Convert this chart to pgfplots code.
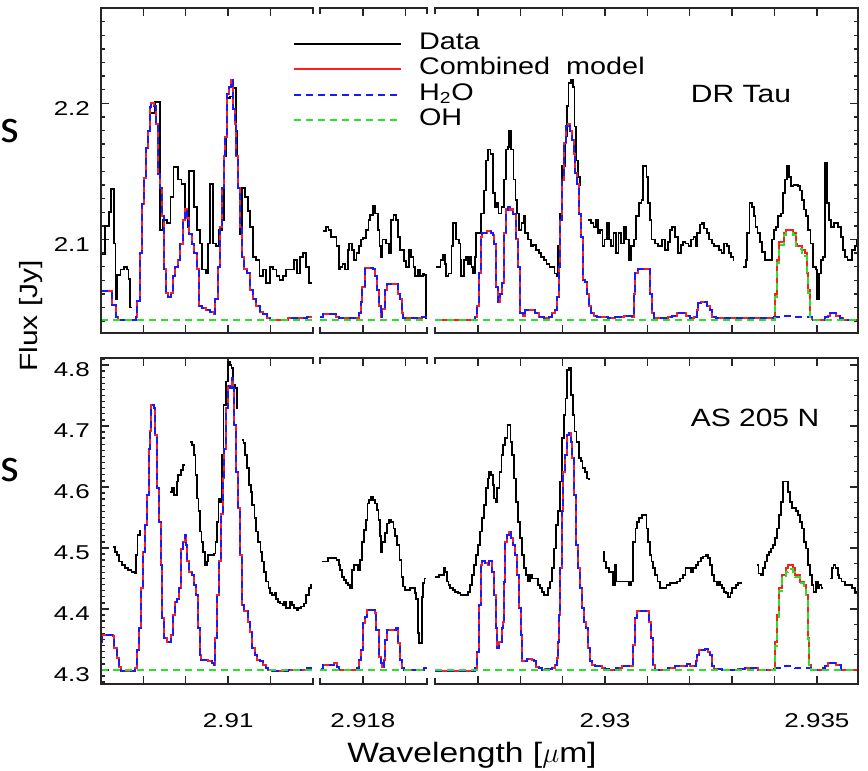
\documentclass[border=0pt]{standalone}
\usepackage{pgfplots}
\pgfplotsset{compat=1.18}
\usepackage{pgfplotstable}
\usepackage{fontspec}
\setmainfont{Liberation Sans}[FakeStretch=1.2]
\newfontfamily\tickfont{Liberation Sans}[FakeStretch=1.3]
\newfontfamily\sfont{Carlito}
\definecolor{mred}{RGB}{255,30,30}
\definecolor{mblue}{RGB}{25,25,255}
\definecolor{mgreen}{RGB}{40,225,40}
\pgfplotsset{
  brk/.style={
    scale only axis,
    axis line style={draw opacity=0},
    tick align=inside,
    major tick length=4pt, minor tick length=2pt,
    every tick/.append style={line width=0.7pt, black!85, draw opacity=1},
    scaled ticks=false,
    /pgf/number format/assume math mode=true,
    tick label style={font=\tickfont\fontsize{10}{12}\selectfont},
    yticklabel style={xshift=-2pt, yshift=-2.5pt},
    xticklabel style={anchor=base, yshift=-22pt},
    clip=true,
  },
  toprow/.style={brk, height=162.5pt, ymin=2.0313, ymax=2.270, ytick={2.1,2.2}, xticklabels={}},
  topminor/.style={minor ytick={2.04,2.05,2.06,2.07,2.08,2.09,2.11,2.12,2.13,2.14,2.15,2.16,2.17,2.18,2.19,2.21,2.22,2.23,2.24,2.25,2.26}},
  botrow/.style={brk, height=163pt, ymin=4.277, ymax=4.8115, ytick={4.3,4.4,4.5,4.6,4.7,4.8}},
  sA/.style={width=106pt, xmin=2.907, xmax=2.912, xtick={2.908,2.909,2.910,2.911}, ytick pos=left},
  sB/.style={width=53.5pt, xmin=2.91699, xmax=2.91951, xtick={2.918,2.919}, ytick=\empty, ymajorticks=false, yminorticks=false},
  sC/.style={width=211.5pt, xmin=2.92599, xmax=2.93597, xtick={2.927,2.928,2.929,2.93,2.931,2.932,2.933,2.934,2.935}, ytick pos=right, yticklabels={}},
  dat/.style={black, line width=0.9pt, const plot},
  cmb/.style={mred, line width=1.0pt, const plot},
  hwo/.style={mblue, line width=1.0pt, const plot, dash pattern=on 3.5pt off 2.5pt},
  ohs/.style={mgreen, line width=1.0pt, const plot, dash pattern=on 3.5pt off 2.5pt},
}
\begin{document}
\pgfplotstableread{
x y
2.90700 2.062
2.90727 2.052
2.90735 2.043
2.90741 2.041
2.90782 2.043
2.90786 2.055
2.90791 2.090
2.90796 2.126
2.90801 2.145
2.90805 2.167
2.90810 2.180
2.90815 2.197
2.90819 2.200
2.90824 2.198
2.90829 2.185
2.90834 2.148
2.90838 2.138
2.90843 2.117
2.90848 2.078
2.90853 2.061
2.90859 2.058
2.90865 2.061
2.90870 2.073
2.90875 2.080
2.90881 2.085
2.90887 2.097
2.90893 2.114
2.90898 2.122
2.90903 2.116
2.90908 2.104
2.90914 2.097
2.90920 2.090
2.90926 2.078
2.90931 2.051
2.90939 2.050
2.90948 2.048
2.90958 2.047
2.90966 2.045
2.90970 2.056
2.90975 2.080
2.90980 2.109
2.90985 2.138
2.90989 2.161
2.90993 2.175
2.90997 2.207
2.91002 2.212
2.91007 2.217
2.91011 2.196
2.91015 2.185
2.91018 2.161
2.91023 2.138
2.91028 2.109
2.91032 2.087
2.91038 2.078
2.91044 2.075
2.91051 2.063
2.91058 2.056
2.91066 2.051
2.91075 2.047
2.91083 2.045
2.91091 2.042
2.91099 2.041
2.91142 2.042
2.91187 2.043
2.91197 2.043
}\TsA
\pgfplotstableread{
x y
2.91698 2.043
2.91705 2.045
2.91736 2.043
2.91744 2.042
2.91790 2.046
2.91795 2.054
2.91799 2.065
2.91806 2.079
2.91823 2.078
2.91829 2.073
2.91834 2.063
2.91837 2.051
2.91842 2.043
2.91846 2.049
2.91851 2.063
2.91856 2.067
2.91878 2.067
2.91883 2.060
2.91887 2.056
2.91892 2.046
2.91895 2.042
2.91939 2.043
2.91951 2.043
}\TsB
\pgfplotstableread{
x y
2.92599 2.041
2.92694 2.043
2.92698 2.051
2.92702 2.075
2.92707 2.102
2.92710 2.105
2.92722 2.106
2.92730 2.105
2.92735 2.103
2.92738 2.097
2.92743 2.065
2.92748 2.054
2.92752 2.060
2.92757 2.068
2.92762 2.105
2.92767 2.122
2.92771 2.124
2.92776 2.122
2.92782 2.119
2.92789 2.100
2.92795 2.080
2.92800 2.046
2.92806 2.044
2.92812 2.048
2.92836 2.046
2.92844 2.043
2.92855 2.042
2.92867 2.043
2.92875 2.046
2.92881 2.048
2.92886 2.058
2.92891 2.080
2.92895 2.114
2.92898 2.144
2.92903 2.171
2.92908 2.183
2.92913 2.185
2.92917 2.180
2.92922 2.173
2.92927 2.163
2.92930 2.149
2.92935 2.141
2.92939 2.119
2.92944 2.102
2.92949 2.070
2.92954 2.069
2.92958 2.060
2.92963 2.051
2.92968 2.046
2.92974 2.044
2.92981 2.043
2.93007 2.042
2.93024 2.043
2.93044 2.044
2.93064 2.043
2.93068 2.060
2.93072 2.075
2.93078 2.078
2.93104 2.078
2.93106 2.060
2.93110 2.046
2.93116 2.042
2.93148 2.043
2.93157 2.044
2.93169 2.046
2.93190 2.044
2.93200 2.042
2.93211 2.043
2.93216 2.048
2.93220 2.053
2.93226 2.054
2.93240 2.051
2.93248 2.048
2.93253 2.043
2.93263 2.042
2.93397 2.043
}\TsCa
\pgfplotstableread{
x y
2.93397 2.043
2.93402 2.060
2.93406 2.085
2.93410 2.098
2.93423 2.105
2.93428 2.107
2.93444 2.105
2.93450 2.097
2.93454 2.095
2.93465 2.092
2.93472 2.090
2.93476 2.075
2.93479 2.063
2.93483 2.043
2.93489 2.041
}\TsCb
\pgfplotstableread{
x y
2.93489 2.041
2.93519 2.043
2.93525 2.044
2.93531 2.046
2.93546 2.044
2.93554 2.042
2.93562 2.041
2.93597 2.041
}\TsCc
\pgfplotstableread{
x y
2.90700 4.346
2.90703 4.357
2.90729 4.355
2.90731 4.336
2.90737 4.319
2.90742 4.305
2.90747 4.298
2.90780 4.303
2.90784 4.333
2.90790 4.368
2.90794 4.434
2.90798 4.494
2.90803 4.538
2.90808 4.587
2.90813 4.663
2.90816 4.691
2.90819 4.734
2.90824 4.729
2.90827 4.686
2.90832 4.598
2.90837 4.543
2.90842 4.472
2.90845 4.385
2.90849 4.352
2.90855 4.346
2.90860 4.346
2.90865 4.357
2.90870 4.390
2.90875 4.412
2.90879 4.417
2.90884 4.434
2.90889 4.499
2.90894 4.510
2.90898 4.521
2.90901 4.505
2.90904 4.478
2.90908 4.461
2.90914 4.456
2.90919 4.439
2.90923 4.423
2.90928 4.368
2.90933 4.325
2.90937 4.316
2.90953 4.314
2.90961 4.311
2.90966 4.308
2.90970 4.352
2.90974 4.423
2.90978 4.478
2.90983 4.555
2.90988 4.614
2.90991 4.663
2.90994 4.729
2.90999 4.765
2.91004 4.762
2.91008 4.778
2.91011 4.762
2.91014 4.702
2.91019 4.625
2.91024 4.565
2.91029 4.489
2.91033 4.407
2.91038 4.396
2.91047 4.379
2.91052 4.363
2.91057 4.336
2.91063 4.325
2.91069 4.316
2.91076 4.314
2.91082 4.308
2.91088 4.303
2.91095 4.300
2.91103 4.298
2.91142 4.300
2.91185 4.303
2.91198 4.303
}\BsA
\pgfplotstableread{
x y
2.91701 4.301
2.91705 4.308
2.91732 4.311
2.91738 4.305
2.91744 4.300
2.91787 4.303
2.91791 4.316
2.91796 4.333
2.91801 4.377
2.91806 4.387
2.91809 4.398
2.91829 4.393
2.91832 4.366
2.91837 4.322
2.91842 4.311
2.91845 4.305
2.91850 4.316
2.91853 4.349
2.91857 4.366
2.91878 4.368
2.91883 4.344
2.91887 4.316
2.91892 4.303
2.91897 4.300
2.91941 4.300
2.91945 4.303
2.91951 4.303
}\BsB
\pgfplotstableread{
x y
2.92599 4.298
2.92693 4.303
2.92697 4.330
2.92702 4.407
2.92707 4.472
2.92711 4.478
2.92718 4.475
2.92723 4.472
2.92727 4.478
2.92734 4.461
2.92738 4.423
2.92743 4.368
2.92746 4.336
2.92751 4.346
2.92756 4.368
2.92759 4.379
2.92762 4.445
2.92765 4.510
2.92768 4.521
2.92773 4.527
2.92778 4.516
2.92782 4.505
2.92787 4.489
2.92792 4.456
2.92796 4.401
2.92801 4.357
2.92804 4.314
2.92815 4.318
2.92828 4.316
2.92833 4.314
2.92837 4.305
2.92844 4.303
2.92852 4.300
2.92859 4.302
2.92875 4.303
2.92881 4.308
2.92886 4.319
2.92889 4.346
2.92892 4.390
2.92895 4.467
2.92899 4.560
2.92902 4.625
2.92905 4.652
2.92910 4.685
2.92914 4.688
2.92919 4.674
2.92922 4.647
2.92927 4.587
2.92932 4.505
2.92936 4.467
2.92941 4.434
2.92946 4.401
2.92950 4.379
2.92955 4.368
2.92960 4.336
2.92965 4.314
2.92969 4.308
2.92977 4.306
2.92993 4.304
2.93001 4.302
2.93009 4.300
2.93025 4.303
2.93040 4.306
2.93062 4.306
2.93067 4.341
2.93072 4.385
2.93076 4.396
2.93104 4.379
2.93109 4.352
2.93114 4.308
2.93118 4.300
2.93149 4.303
2.93165 4.306
2.93181 4.307
2.93193 4.309
2.93201 4.306
2.93214 4.314
2.93218 4.325
2.93223 4.333
2.93236 4.334
2.93242 4.330
2.93247 4.325
2.93252 4.306
2.93258 4.302
2.93275 4.300
2.93314 4.302
2.93330 4.303
2.93362 4.300
2.93399 4.303
}\BsCa
\pgfplotstableread{
x y
2.93399 4.303
2.93402 4.346
2.93406 4.390
2.93410 4.434
2.93417 4.456
2.93428 4.467
2.93432 4.472
2.93443 4.467
2.93448 4.456
2.93459 4.445
2.93469 4.439
2.93475 4.423
2.93478 4.352
2.93481 4.308
2.93487 4.300
}\BsCb
\pgfplotstableread{
x y
2.93487 4.300
2.93515 4.303
2.93520 4.306
2.93525 4.311
2.93546 4.308
2.93556 4.300
2.93597 4.298
}\BsCc
\begin{tikzpicture}
\path[use as bounding box] (0,0) rectangle (434pt,385.5pt);
% ================= TOP PANEL (DR Tau) =================
\begin{axis}[toprow, topminor, sA, name=t1, at={(50.5pt,219pt)}, anchor=south west,
  legend image code/.code={\draw[#1] (0pt,0pt) -- (53.5pt,0pt);},
  legend style={draw=none, fill=none, at={(rel axis cs:0.9057,0.929)}, anchor=north west,
    inner sep=0pt, outer sep=0pt, row sep=0pt, column sep=8.5pt,
    font=\fontsize{12}{14}\selectfont,
    nodes={inner sep=0pt, text height=9pt, text depth=3.75pt}},
  legend cell align=left]
\addplot[dat] coordinates {(2.90700,2.089) (2.90710,2.110) (2.90718,2.120) (2.90724,2.137) (2.90730,2.097) (2.90734,2.056) (2.90738,2.074) (2.90746,2.078) (2.90754,2.080) (2.90762,2.078) (2.90765,2.071) (2.90769,2.050) (2.90773,2.050)};
\addplot[dat, forget plot] coordinates {(2.90819,2.193) (2.90827,2.201) (2.90839,2.107) (2.90847,2.114) (2.90856,2.112) (2.90864,2.131) (2.90871,2.153) (2.90881,2.144) (2.90890,2.141) (2.90898,2.122) (2.90904,2.109) (2.90908,2.150) (2.90920,2.124) (2.90926,2.107) (2.90933,2.097) (2.90939,2.078) (2.90947,2.075) (2.90953,2.097) (2.90958,2.141) (2.90964,2.097) (2.90972,2.095) (2.90978,2.107) (2.90986,2.114) (2.90991,2.161) (2.90996,2.204) (2.91004,2.205) (2.91010,2.211) (2.91018,2.180) (2.91022,2.138) (2.91028,2.104) (2.91033,2.138) (2.91040,2.131) (2.91046,2.121) (2.91052,2.109) (2.91058,2.087) (2.91066,2.085) (2.91074,2.073) (2.91082,2.078) (2.91090,2.068) (2.91098,2.080) (2.91106,2.078) (2.91114,2.073) (2.91121,2.070) (2.91129,2.073) (2.91137,2.078) (2.91147,2.078) (2.91155,2.085) (2.91162,2.075) (2.91169,2.087) (2.91176,2.090) (2.91184,2.080) (2.91191,2.068) (2.91197,2.068)};
\addplot[cmb] table {\TsA};
\addplot[hwo] table {\TsA};
\addplot[ohs] coordinates {(2.90700,2.041) (2.91200,2.041)};
\legend{Data, Combined\ \ model, H\textsubscript{2}O, OH}
\end{axis}
\begin{axis}[toprow, sB, name=t2, at={(160pt,219pt)}, anchor=south west]
\addplot[dat] coordinates {(2.91706,2.106) (2.91713,2.109) (2.91719,2.107) (2.91725,2.102) (2.91732,2.102) (2.91738,2.095) (2.91743,2.078) (2.91746,2.080) (2.91752,2.082) (2.91758,2.078) (2.91764,2.092) (2.91768,2.097) (2.91774,2.092) (2.91780,2.085) (2.91785,2.090) (2.91790,2.095) (2.91795,2.100) (2.91801,2.101) (2.91807,2.107) (2.91813,2.114) (2.91817,2.118) (2.91823,2.125) (2.91829,2.119) (2.91835,2.107) (2.91839,2.095) (2.91842,2.087) (2.91846,2.100) (2.91854,2.097) (2.91861,2.090) (2.91866,2.114) (2.91872,2.118) (2.91878,2.114) (2.91882,2.102) (2.91887,2.092) (2.91892,2.092) (2.91897,2.084) (2.91901,2.080) (2.91908,2.092) (2.91913,2.087) (2.91919,2.080) (2.91923,2.073) (2.91929,2.078) (2.91934,2.073) (2.91941,2.075) (2.91945,2.074) (2.91949,2.042) (2.91950,2.042)};
\addplot[cmb] table {\TsB};
\addplot[hwo] table {\TsB};
\addplot[ohs] coordinates {(2.91699,2.041) (2.91951,2.041)};
\end{axis}
\begin{axis}[toprow, topminor, sC, name=t3, at={(217.5pt,219pt)}, anchor=south west]
\addplot[dat] coordinates {(2.92601,2.080) (2.92612,2.085) (2.92617,2.089) (2.92622,2.082) (2.92625,2.073) (2.92631,2.075) (2.92638,2.095) (2.92641,2.112) (2.92649,2.100) (2.92655,2.097) (2.92659,2.085) (2.92661,2.073) (2.92667,2.085) (2.92672,2.087) (2.92677,2.082) (2.92682,2.087) (2.92685,2.080) (2.92688,2.075) (2.92693,2.087) (2.92696,2.105) (2.92702,2.105) (2.92708,2.119) (2.92714,2.136) (2.92719,2.158) (2.92724,2.166) (2.92730,2.163) (2.92735,2.134) (2.92740,2.124) (2.92745,2.127) (2.92749,2.119) (2.92756,2.124) (2.92761,2.144) (2.92767,2.166) (2.92771,2.168) (2.92774,2.180) (2.92779,2.166) (2.92784,2.144) (2.92789,2.129) (2.92793,2.119) (2.92798,2.107) (2.92803,2.112) (2.92808,2.117) (2.92812,2.105) (2.92818,2.100) (2.92825,2.095) (2.92831,2.096) (2.92837,2.092) (2.92844,2.090) (2.92850,2.087) (2.92856,2.085) (2.92862,2.082) (2.92869,2.080) (2.92881,2.075) (2.92886,2.073) (2.92889,2.095) (2.92894,2.119) (2.92898,2.154) (2.92907,2.176) (2.92910,2.198) (2.92914,2.215) (2.92919,2.217) (2.92924,2.212) (2.92928,2.183) (2.92932,2.158) (2.92936,2.146) (2.92941,2.140) (2.92943,2.140)};
\addplot[dat] coordinates {(2.92961,2.114) (2.92967,2.112) (2.92973,2.109) (2.92978,2.114) (2.92983,2.105) (2.92989,2.107) (2.92994,2.095) (2.92999,2.100) (2.93004,2.112) (2.93009,2.100) (2.93015,2.095) (2.93020,2.105) (2.93026,2.090) (2.93032,2.105) (2.93038,2.097) (2.93044,2.109) (2.93050,2.100) (2.93056,2.085) (2.93062,2.095) (2.93068,2.100) (2.93073,2.117) (2.93080,2.127) (2.93086,2.129) (2.93089,2.154) (2.93098,2.146) (2.93102,2.127) (2.93106,2.114) (2.93110,2.100) (2.93118,2.097) (2.93126,2.095) (2.93134,2.100) (2.93142,2.092) (2.93149,2.098) (2.93153,2.107) (2.93159,2.109) (2.93165,2.102) (2.93173,2.090) (2.93179,2.096) (2.93185,2.098) (2.93190,2.097) (2.93197,2.095) (2.93203,2.100) (2.93209,2.102) (2.93214,2.095) (2.93218,2.105) (2.93224,2.111) (2.93229,2.112) (2.93234,2.108) (2.93240,2.105) (2.93245,2.100) (2.93252,2.097) (2.93258,2.095) (2.93269,2.092) (2.93275,2.090) (2.93281,2.097) (2.93287,2.095) (2.93292,2.090) (2.93297,2.087) (2.93303,2.085) (2.93305,2.085)};
\addplot[dat] coordinates {(2.93326,2.080) (2.93332,2.085) (2.93336,2.105) (2.93341,2.127) (2.93346,2.124) (2.93351,2.117) (2.93355,2.109) (2.93360,2.105) (2.93366,2.098) (2.93371,2.091) (2.93377,2.085) (2.93390,2.085) (2.93395,2.100) (2.93399,2.107) (2.93404,2.109) (2.93409,2.117) (2.93415,2.119) (2.93420,2.134) (2.93424,2.144) (2.93429,2.154) (2.93434,2.146) (2.93439,2.139) (2.93445,2.140) (2.93456,2.139) (2.93461,2.136) (2.93464,2.129) (2.93470,2.122) (2.93475,2.117) (2.93479,2.107) (2.93485,2.097) (2.93491,2.080) (2.93497,2.078) (2.93500,2.056) (2.93505,2.075) (2.93509,2.085) (2.93515,2.087) (2.93519,2.156) (2.93524,2.127) (2.93528,2.114) (2.93533,2.109) (2.93541,2.112) (2.93550,2.109) (2.93557,2.102) (2.93561,2.092) (2.93566,2.087) (2.93572,2.085) (2.93582,2.092) (2.93590,2.095) (2.93594,2.100) (2.93597,2.100)};
\addplot[cmb] table {\TsCa};
\addplot[cmb] table {\TsCb};
\addplot[cmb] table {\TsCc};
\addplot[hwo] table {\TsCa};
\addplot[hwo] coordinates {(2.93397,2.043) (2.93420,2.044) (2.93445,2.043) (2.93489,2.041)};
\addplot[hwo] table {\TsCc};
\addplot[ohs] coordinates {(2.92599,2.041) (2.93397,2.041) (2.93402,2.058) (2.93406,2.083) (2.93410,2.096) (2.93423,2.103) (2.93428,2.105) (2.93444,2.103) (2.93450,2.095) (2.93454,2.093) (2.93465,2.090) (2.93472,2.088) (2.93476,2.073) (2.93479,2.061) (2.93483,2.041) (2.93597,2.041)};
\end{axis}
% ================= BOTTOM PANEL (AS 205 N) =================
\begin{axis}[botrow, sA, name=b1, at={(50.5pt,43.5pt)}, anchor=south west,
  minor ytick={4.28,4.29,4.31,4.32,4.33,4.34,4.35,4.36,4.37,4.38,4.39,4.41,4.42,4.43,4.44,4.45,4.46,4.47,4.48,4.49,4.51,4.52,4.53,4.54,4.55,4.56,4.57,4.58,4.59,4.61,4.62,4.63,4.64,4.65,4.66,4.67,4.68,4.69,4.71,4.72,4.73,4.74,4.75,4.76,4.77,4.78,4.79,4.81},
  xticklabels={,,2.91,}]
\addplot[dat] coordinates {(2.90729,4.502) (2.90733,4.494) (2.90737,4.489) (2.90742,4.478) (2.90749,4.472) (2.90757,4.467) (2.90764,4.464) (2.90772,4.461) (2.90779,4.458) (2.90782,4.489) (2.90786,4.521) (2.90792,4.528) (2.90794,4.528)};
\addplot[dat] coordinates {(2.90863,4.592) (2.90868,4.598) (2.90873,4.587) (2.90879,4.609) (2.90882,4.620) (2.90889,4.628) (2.90894,4.636) (2.90897,4.636)};
\addplot[dat] coordinates {(2.90910,4.674) (2.90915,4.669) (2.90920,4.652) (2.90923,4.620) (2.90926,4.581) (2.90930,4.560) (2.90934,4.527) (2.90937,4.510) (2.90941,4.494) (2.90945,4.472) (2.90950,4.478) (2.90953,4.489) (2.90967,4.491) (2.90970,4.510) (2.90974,4.543) (2.90977,4.581) (2.90981,4.576) (2.90985,4.652) (2.90989,4.734) (2.90994,4.773) (2.90999,4.805) (2.91004,4.800) (2.91008,4.795) (2.91012,4.767) (2.91016,4.762) (2.91020,4.729) (2.91022,4.729)};
\addplot[dat] coordinates {(2.91032,4.677) (2.91036,4.672) (2.91040,4.652) (2.91044,4.631) (2.91049,4.603) (2.91054,4.592) (2.91057,4.570) (2.91062,4.549) (2.91066,4.527) (2.91071,4.510) (2.91076,4.494) (2.91080,4.478) (2.91085,4.461) (2.91090,4.445) (2.91095,4.434) (2.91099,4.426) (2.91104,4.423) (2.91109,4.426) (2.91113,4.417) (2.91118,4.412) (2.91123,4.409) (2.91128,4.407) (2.91132,4.412) (2.91137,4.401) (2.91146,4.412) (2.91151,4.407) (2.91156,4.401) (2.91161,4.398) (2.91165,4.401) (2.91172,4.404) (2.91178,4.409) (2.91184,4.423) (2.91191,4.434) (2.91195,4.439) (2.91198,4.439)};
\addplot[cmb] table {\BsA};
\addplot[hwo] table {\BsA};
\addplot[ohs] coordinates {(2.90700,4.300) (2.91200,4.300)};
\end{axis}
\begin{axis}[botrow, sB, name=b2, at={(160pt,43.5pt)}, anchor=south west, xticklabels={2.918,}]
\addplot[dat] coordinates {(2.91703,4.478) (2.91717,4.483) (2.91738,4.480) (2.91743,4.472) (2.91746,4.464) (2.91750,4.453) (2.91755,4.448) (2.91760,4.442) (2.91765,4.439) (2.91769,4.434) (2.91774,4.464) (2.91779,4.472) (2.91788,4.464) (2.91793,4.480) (2.91798,4.510) (2.91802,4.530) (2.91807,4.546) (2.91811,4.573) (2.91815,4.579) (2.91820,4.584) (2.91824,4.579) (2.91829,4.573) (2.91834,4.562) (2.91837,4.546) (2.91840,4.519) (2.91843,4.494) (2.91846,4.510) (2.91853,4.524) (2.91857,4.540) (2.91862,4.546) (2.91867,4.543) (2.91872,4.532) (2.91876,4.519) (2.91881,4.505) (2.91886,4.480) (2.91891,4.453) (2.91895,4.437) (2.91900,4.431) (2.91911,4.434) (2.91922,4.426) (2.91925,4.417) (2.91929,4.360) (2.91933,4.344) (2.91939,4.420) (2.91942,4.442) (2.91945,4.450) (2.91949,4.450)};
\addplot[cmb] table {\BsB};
\addplot[hwo] table {\BsB};
\addplot[ohs] coordinates {(2.91699,4.300) (2.91951,4.300)};
\end{axis}
\begin{axis}[botrow, sC, name=b3, at={(217.5pt,43.5pt)}, anchor=south west,
  minor ytick={4.275,4.325,4.35,4.375,4.425,4.45,4.475,4.525,4.55,4.575,4.625,4.65,4.675,4.725,4.75,4.775},
  xticklabels={,,,2.93,,,,,2.935}]
\addplot[dat] coordinates {(2.92600,4.453) (2.92609,4.456) (2.92620,4.467) (2.92623,4.461) (2.92627,4.445) (2.92631,4.439) (2.92635,4.434) (2.92641,4.431) (2.92647,4.428) (2.92653,4.426) (2.92659,4.423) (2.92671,4.423) (2.92677,4.428) (2.92682,4.439) (2.92686,4.456) (2.92691,4.472) (2.92696,4.489) (2.92700,4.505) (2.92705,4.527) (2.92710,4.549) (2.92715,4.570) (2.92719,4.598) (2.92724,4.614) (2.92727,4.625) (2.92732,4.620) (2.92735,4.603) (2.92738,4.581) (2.92743,4.576) (2.92746,4.598) (2.92751,4.625) (2.92756,4.652) (2.92760,4.669) (2.92765,4.680) (2.92770,4.702) (2.92774,4.702) (2.92777,4.674) (2.92781,4.652) (2.92785,4.614) (2.92790,4.576) (2.92795,4.543) (2.92800,4.516) (2.92804,4.489) (2.92809,4.467) (2.92814,4.456) (2.92818,4.445) (2.92823,4.456) (2.92828,4.450) (2.92837,4.450) (2.92842,4.439) (2.92847,4.434) (2.92852,4.428) (2.92856,4.423) (2.92861,4.423) (2.92866,4.434) (2.92870,4.445) (2.92875,4.467) (2.92880,4.499) (2.92884,4.538) (2.92889,4.560) (2.92894,4.609) (2.92899,4.680) (2.92903,4.718) (2.92907,4.745) (2.92911,4.792) (2.92916,4.795) (2.92919,4.751) (2.92924,4.718) (2.92928,4.691) (2.92933,4.674) (2.92938,4.647) (2.92943,4.642) (2.92947,4.631) (2.92952,4.625) (2.92957,4.614) (2.92962,4.612)};
\addplot[dat] coordinates {(2.92995,4.494) (2.92998,4.478) (2.93003,4.467) (2.93009,4.461) (2.93018,4.439) (2.93023,4.472) (2.93026,4.445) (2.93056,4.439) (2.93062,4.445) (2.93067,4.510) (2.93072,4.532) (2.93076,4.543) (2.93081,4.549) (2.93088,4.554) (2.93098,4.532) (2.93102,4.510) (2.93106,4.489) (2.93110,4.478) (2.93114,4.467) (2.93118,4.456) (2.93124,4.445) (2.93130,4.434) (2.93138,4.434) (2.93145,4.439) (2.93153,4.442) (2.93169,4.445) (2.93177,4.450) (2.93185,4.456) (2.93190,4.467) (2.93203,4.461) (2.93208,4.467) (2.93214,4.472) (2.93220,4.478) (2.93226,4.483) (2.93232,4.486) (2.93239,4.489) (2.93244,4.483) (2.93248,4.472) (2.93253,4.456) (2.93258,4.445) (2.93263,4.439) (2.93267,4.445) (2.93272,4.439) (2.93277,4.434) (2.93281,4.428) (2.93286,4.426) (2.93291,4.420) (2.93296,4.426) (2.93300,4.434) (2.93310,4.439) (2.93314,4.442) (2.93322,4.445)};
\addplot[dat] coordinates {(2.93358,4.472) (2.93362,4.458) (2.93368,4.456) (2.93373,4.467) (2.93377,4.478) (2.93382,4.489) (2.93387,4.494) (2.93391,4.499) (2.93396,4.505) (2.93401,4.516) (2.93406,4.532) (2.93410,4.554) (2.93415,4.576) (2.93420,4.609) (2.93428,4.609) (2.93432,4.592) (2.93437,4.576) (2.93442,4.565) (2.93451,4.560) (2.93456,4.554) (2.93461,4.543) (2.93465,4.532) (2.93470,4.510) (2.93475,4.499) (2.93479,4.472) (2.93484,4.456) (2.93489,4.439) (2.93492,4.428) (2.93497,4.445) (2.93502,4.434) (2.93506,4.439) (2.93511,4.434) (2.93515,4.434)};
\addplot[dat] coordinates {(2.93531,4.450) (2.93535,4.467) (2.93539,4.472) (2.93544,4.467) (2.93549,4.456) (2.93553,4.450) (2.93558,4.445) (2.93566,4.439) (2.93582,4.434) (2.93590,4.428) (2.93597,4.423)};
\addplot[cmb] table {\BsCa};
\addplot[cmb] table {\BsCb};
\addplot[cmb] table {\BsCc};
\addplot[hwo] table {\BsCa};
\addplot[hwo] coordinates {(2.93399,4.303) (2.93425,4.306) (2.93448,4.303) (2.93487,4.300)};
\addplot[hwo] table {\BsCc};
\addplot[ohs] coordinates {(2.92599,4.300) (2.93399,4.300) (2.93402,4.340) (2.93406,4.379) (2.93410,4.430) (2.93417,4.450) (2.93428,4.460) (2.93432,4.465) (2.93443,4.461) (2.93448,4.452) (2.93459,4.442) (2.93469,4.435) (2.93475,4.420) (2.93478,4.350) (2.93481,4.305) (2.93487,4.300) (2.93597,4.300)};
\end{axis}
% frames of the broken axes
\foreach \n in {t1,b1} {
  \draw[line width=0.8pt, black!85, line cap=rect]
    (\n.north east) -- ++(0,-2.5pt) (\n.north east) -- (\n.north west) -- (\n.south west) -- (\n.south east) -- ++(0,2.5pt);
}
\foreach \n in {t2,b2} {
  \draw[line width=0.8pt, black!85, line cap=rect]
    ([yshift=-2.5pt]\n.north west) -- (\n.north west) -- (\n.north east) -- ++(0,-2.5pt)
    ([yshift=2.5pt]\n.south west) -- (\n.south west) -- (\n.south east) -- ++(0,2.5pt);
}
\foreach \n in {t3,b3} {
  \draw[line width=0.8pt, black!85, line cap=rect]
    (\n.north west) -- ++(0,-2.5pt) (\n.north west) -- (\n.north east) -- (\n.south east) -- (\n.south west) -- ++(0,2.5pt);
}
% labels
\node[anchor=base, font=\fontsize{12.5}{14}\selectfont] at (370.5pt,334pt) {DR Tau};
\node[anchor=base, font=\fontsize{12.5}{14}\selectfont] at (377.5pt,172pt) {AS 205 N};
\node[anchor=base, rotate=90, font=\fontsize{12.5}{14}\selectfont] at (18.5pt,227.5pt) {Flux [Jy]};
\node[anchor=base, font=\fontsize{14}{16}\selectfont] at (236pt,4pt) {Wavelength [$\mu$m]};
\node[anchor=base west, inner sep=0pt, font=\sfont\fontsize{24}{24}\selectfont] at (0.3pt,314pt) {s};
\node[anchor=base west, inner sep=0pt, font=\sfont\fontsize{24}{24}\selectfont] at (0.3pt,144.5pt) {s};
\end{tikzpicture}
\end{document}
